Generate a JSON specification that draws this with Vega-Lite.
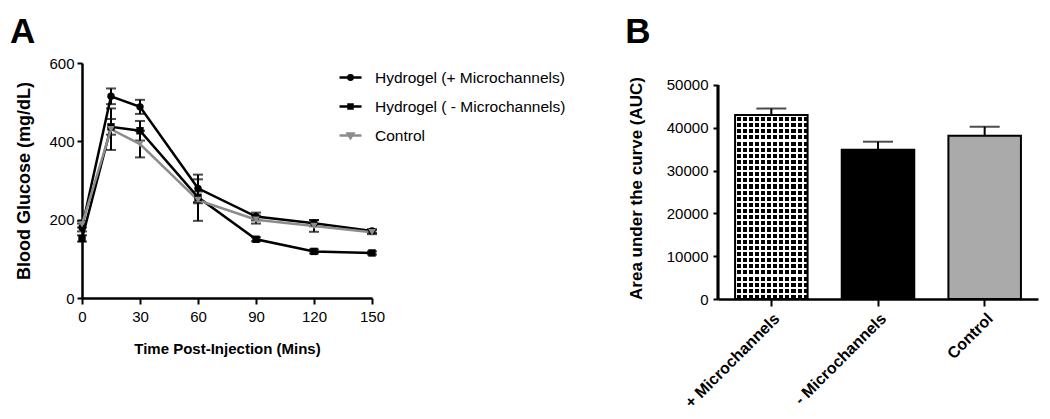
{
  "$schema": "https://vega.github.io/schema/vega-lite/v6.json",
  "background": "white",
  "padding": {"left": 9, "top": 15, "right": 5, "bottom": 5},
  "config": {
    "font": "Liberation Sans",
    "view": {"stroke": null},
    "axis": {
      "grid": false,
      "domainColor": "black",
      "domainWidth": 2.5,
      "tickColor": "black",
      "tickWidth": 2,
      "tickSize": 6,
      "labelColor": "black",
      "labelFontSize": 15,
      "labelFont": "Liberation Sans",
      "titleColor": "black",
      "titleFont": "Liberation Sans",
      "titleFontWeight": "bold"
    },
    "title": {"font": "Liberation Sans", "color": "black", "fontWeight": "bold", "fontSize": 35, "anchor": "start"}
  },
  "resolve": {"scale": {"color": "independent"}, "legend": {"color": "independent"}},
  "spacing": 59,
  "hconcat": [
    {
      "width": 290,
      "height": 235,
      "title": {"text": "A", "offset": 6, "dx": -6},
      "data": {"values": [
        {"series": "Hydrogel (+ Microchannels)", "time": 0, "mean": 180, "lo": 170, "hi": 190},
        {"series": "Hydrogel (+ Microchannels)", "time": 15, "mean": 515, "lo": 495, "hi": 535},
        {"series": "Hydrogel (+ Microchannels)", "time": 30, "mean": 488, "lo": 470, "hi": 506},
        {"series": "Hydrogel (+ Microchannels)", "time": 60, "mean": 280, "lo": 245, "hi": 315},
        {"series": "Hydrogel (+ Microchannels)", "time": 90, "mean": 208, "lo": 198, "hi": 218},
        {"series": "Hydrogel (+ Microchannels)", "time": 120, "mean": 191, "lo": 183, "hi": 199},
        {"series": "Hydrogel (+ Microchannels)", "time": 150, "mean": 171, "lo": 166, "hi": 176},
        {"series": "Hydrogel ( - Microchannels)", "time": 0, "mean": 152, "lo": 144, "hi": 160},
        {"series": "Hydrogel ( - Microchannels)", "time": 15, "mean": 437, "lo": 417, "hi": 457},
        {"series": "Hydrogel ( - Microchannels)", "time": 30, "mean": 427, "lo": 402, "hi": 452},
        {"series": "Hydrogel ( - Microchannels)", "time": 60, "mean": 257, "lo": 242, "hi": 272},
        {"series": "Hydrogel ( - Microchannels)", "time": 90, "mean": 150, "lo": 145, "hi": 155},
        {"series": "Hydrogel ( - Microchannels)", "time": 120, "mean": 119, "lo": 114, "hi": 124},
        {"series": "Hydrogel ( - Microchannels)", "time": 150, "mean": 115, "lo": 111, "hi": 119},
        {"series": "Control", "time": 0, "mean": 188, "lo": 180, "hi": 196},
        {"series": "Control", "time": 15, "mean": 431, "lo": 378, "hi": 484},
        {"series": "Control", "time": 30, "mean": 393, "lo": 359, "hi": 427},
        {"series": "Control", "time": 60, "mean": 250, "lo": 197, "hi": 303},
        {"series": "Control", "time": 90, "mean": 200, "lo": 190, "hi": 210},
        {"series": "Control", "time": 120, "mean": 184, "lo": 169, "hi": 199},
        {"series": "Control", "time": 150, "mean": 168, "lo": 163, "hi": 173}
      ]},
      "encoding": {
        "x": {
          "field": "time", "type": "quantitative",
          "scale": {"domain": [0, 150], "nice": false, "zero": true},
          "axis": {"values": [0, 30, 60, 90, 120, 150], "title": "Time Post-Injection (Mins)", "titleFontSize": 15, "titlePadding": 17, "labelPadding": 5, "labelFlush": false}
        }
      },
      "layer": [
        {
          "mark": {"type": "rule", "strokeWidth": 2, "color": "black"},
          "encoding": {
            "y": {"field": "lo", "type": "quantitative"},
            "y2": {"field": "hi"}
          }
        },
        {
          "mark": {"type": "tick", "orient": "horizontal", "size": 10, "thickness": 2, "color": "black"},
          "encoding": {"y": {"field": "lo", "type": "quantitative"}}
        },
        {
          "mark": {"type": "tick", "orient": "horizontal", "size": 10, "thickness": 2, "color": "black"},
          "encoding": {"y": {"field": "hi", "type": "quantitative"}}
        },
        {
          "mark": {"type": "line", "strokeWidth": 2.5},
          "encoding": {
            "y": {
              "field": "mean", "type": "quantitative",
              "scale": {"domain": [0, 600], "nice": false},
              "axis": {"values": [0, 200, 400, 600], "title": "Blood Glucose (mg/dL)", "titleFontSize": 18, "titlePadding": 15, "labelPadding": 3, "tickSize": 5}
            },
            "color": {
              "field": "series", "type": "nominal",
              "scale": {"domain": ["Hydrogel (+ Microchannels)", "Hydrogel ( - Microchannels)", "Control"], "range": ["black", "black", "#8c8c8c"]},
              "legend": {
                "orient": "none",
                "legendX": 257,
                "legendY": 3,
                "title": null,
                "labelFontSize": 15.5,
                "labelColor": "black",
                "labelFont": "Liberation Sans",
                "labelLimit": 400,
                "labelOffset": 13,
                "symbolSize": 400,
                "symbolStrokeWidth": 2.5,
                "symbolType": "M-1.1,0H1.1M-0.22,0A0.22,0.22 0 1,0 0.22,0A0.22,0.22 0 1,0 -0.22,0Z",
                "rowPadding": 9,
                "encoding": {
                  "symbols": {
                    "shape": {
                      "condition": [
                        {"test": "datum.value === 'Control'", "value": "M-1.1,0H1.1M-0.28,-0.2H0.28L0,0.26Z"},
                        {"test": "datum.value === 'Hydrogel (+ Microchannels)'", "value": "M-1.1,0H1.1M-0.22,0A0.22,0.22 0 1,0 0.22,0A0.22,0.22 0 1,0 -0.22,0Z"}
                      ],
                      "value": "M-1.1,0H1.1M-0.2,-0.2H0.2V0.2H-0.2Z"
                    }
                  }
                }
              }
            }
          }
        },
        {
          "transform": [{"filter": "datum.series === 'Hydrogel (+ Microchannels)'"}],
          "mark": {"type": "point", "filled": true, "size": 55, "opacity": 1, "shape": "circle", "color": "black"},
          "encoding": {"y": {"field": "mean", "type": "quantitative"}}
        },
        {
          "transform": [{"filter": "datum.series === 'Hydrogel ( - Microchannels)'"}],
          "mark": {"type": "point", "filled": true, "size": 55, "opacity": 1, "shape": "square", "color": "black"},
          "encoding": {"y": {"field": "mean", "type": "quantitative"}}
        },
        {
          "transform": [{"filter": "datum.series === 'Control'"}],
          "mark": {"type": "point", "filled": true, "size": 55, "opacity": 1, "shape": "triangle-down", "color": "#8c8c8c"},
          "encoding": {"y": {"field": "mean", "type": "quantitative"}}
        }
      ]
    },
    {
      "title": {"text": "B", "offset": 13, "dx": -2},
      "data": {"values": [
        {"group": "+ Microchannels", "auc": 43000, "hi": 44500},
        {"group": "- Microchannels", "auc": 34900, "hi": 36750},
        {"group": "Control", "auc": 38150, "hi": 40250}
      ]},
      "width": 320,
      "height": 236,
      "resolve": {"scale": {"x": "independent"}},
      "layer": [
        {
          "encoding": {
            "x": {
              "field": "group", "type": "nominal", "sort": null,
              "scale": {"domain": ["+ Microchannels", "- Microchannels", "Control"], "paddingInner": 0.32, "paddingOuter": 0.16},
              "axis": {"title": null, "labelAngle": -45, "labelFontSize": 16, "labelFontWeight": "bold", "tickSize": 7, "labelPadding": 4}
            }
          },
          "layer": [
            {
              "transform": [{"filter": "datum.group === '+ Microchannels'"}],
              "mark": {
                "type": "bar",
                "fill": {
                  "gradient": "linear", "x1": 0, "y1": 0, "x2": 0, "y2": 1,
                  "stops": [
                    {"offset": 0, "color": "white"}, {"offset": 0.0111, "color": "white"}, {"offset": 0.0111, "color": "black"}, {"offset": 0.0333, "color": "black"},
                    {"offset": 0.0333, "color": "white"}, {"offset": 0.0444, "color": "white"}, {"offset": 0.0444, "color": "black"}, {"offset": 0.0667, "color": "black"},
                    {"offset": 0.0667, "color": "white"}, {"offset": 0.0778, "color": "white"}, {"offset": 0.0778, "color": "black"}, {"offset": 0.1, "color": "black"},
                    {"offset": 0.1, "color": "white"}, {"offset": 0.1111, "color": "white"}, {"offset": 0.1111, "color": "black"}, {"offset": 0.1333, "color": "black"},
                    {"offset": 0.1333, "color": "white"}, {"offset": 0.1444, "color": "white"}, {"offset": 0.1444, "color": "black"}, {"offset": 0.1667, "color": "black"},
                    {"offset": 0.1667, "color": "white"}, {"offset": 0.1778, "color": "white"}, {"offset": 0.1778, "color": "black"}, {"offset": 0.2, "color": "black"},
                    {"offset": 0.2, "color": "white"}, {"offset": 0.2111, "color": "white"}, {"offset": 0.2111, "color": "black"}, {"offset": 0.2333, "color": "black"},
                    {"offset": 0.2333, "color": "white"}, {"offset": 0.2444, "color": "white"}, {"offset": 0.2444, "color": "black"}, {"offset": 0.2667, "color": "black"},
                    {"offset": 0.2667, "color": "white"}, {"offset": 0.2778, "color": "white"}, {"offset": 0.2778, "color": "black"}, {"offset": 0.3, "color": "black"},
                    {"offset": 0.3, "color": "white"}, {"offset": 0.3111, "color": "white"}, {"offset": 0.3111, "color": "black"}, {"offset": 0.3333, "color": "black"},
                    {"offset": 0.3333, "color": "white"}, {"offset": 0.3444, "color": "white"}, {"offset": 0.3444, "color": "black"}, {"offset": 0.3667, "color": "black"},
                    {"offset": 0.3667, "color": "white"}, {"offset": 0.3778, "color": "white"}, {"offset": 0.3778, "color": "black"}, {"offset": 0.4, "color": "black"},
                    {"offset": 0.4, "color": "white"}, {"offset": 0.4111, "color": "white"}, {"offset": 0.4111, "color": "black"}, {"offset": 0.4333, "color": "black"},
                    {"offset": 0.4333, "color": "white"}, {"offset": 0.4444, "color": "white"}, {"offset": 0.4444, "color": "black"}, {"offset": 0.4667, "color": "black"},
                    {"offset": 0.4667, "color": "white"}, {"offset": 0.4778, "color": "white"}, {"offset": 0.4778, "color": "black"}, {"offset": 0.5, "color": "black"},
                    {"offset": 0.5, "color": "white"}, {"offset": 0.5111, "color": "white"}, {"offset": 0.5111, "color": "black"}, {"offset": 0.5333, "color": "black"},
                    {"offset": 0.5333, "color": "white"}, {"offset": 0.5444, "color": "white"}, {"offset": 0.5444, "color": "black"}, {"offset": 0.5667, "color": "black"},
                    {"offset": 0.5667, "color": "white"}, {"offset": 0.5778, "color": "white"}, {"offset": 0.5778, "color": "black"}, {"offset": 0.6, "color": "black"},
                    {"offset": 0.6, "color": "white"}, {"offset": 0.6111, "color": "white"}, {"offset": 0.6111, "color": "black"}, {"offset": 0.6333, "color": "black"},
                    {"offset": 0.6333, "color": "white"}, {"offset": 0.6444, "color": "white"}, {"offset": 0.6444, "color": "black"}, {"offset": 0.6667, "color": "black"},
                    {"offset": 0.6667, "color": "white"}, {"offset": 0.6778, "color": "white"}, {"offset": 0.6778, "color": "black"}, {"offset": 0.7, "color": "black"},
                    {"offset": 0.7, "color": "white"}, {"offset": 0.7111, "color": "white"}, {"offset": 0.7111, "color": "black"}, {"offset": 0.7333, "color": "black"},
                    {"offset": 0.7333, "color": "white"}, {"offset": 0.7444, "color": "white"}, {"offset": 0.7444, "color": "black"}, {"offset": 0.7667, "color": "black"},
                    {"offset": 0.7667, "color": "white"}, {"offset": 0.7778, "color": "white"}, {"offset": 0.7778, "color": "black"}, {"offset": 0.8, "color": "black"},
                    {"offset": 0.8, "color": "white"}, {"offset": 0.8111, "color": "white"}, {"offset": 0.8111, "color": "black"}, {"offset": 0.8333, "color": "black"},
                    {"offset": 0.8333, "color": "white"}, {"offset": 0.8444, "color": "white"}, {"offset": 0.8444, "color": "black"}, {"offset": 0.8667, "color": "black"},
                    {"offset": 0.8667, "color": "white"}, {"offset": 0.8778, "color": "white"}, {"offset": 0.8778, "color": "black"}, {"offset": 0.9, "color": "black"},
                    {"offset": 0.9, "color": "white"}, {"offset": 0.9111, "color": "white"}, {"offset": 0.9111, "color": "black"}, {"offset": 0.9333, "color": "black"},
                    {"offset": 0.9333, "color": "white"}, {"offset": 0.9444, "color": "white"}, {"offset": 0.9444, "color": "black"}, {"offset": 0.9667, "color": "black"},
                    {"offset": 0.9667, "color": "white"}, {"offset": 0.9778, "color": "white"}, {"offset": 0.9778, "color": "black"}, {"offset": 1, "color": "black"}
                  ]
                }
              },
              "encoding": {"y": {"field": "auc", "type": "quantitative"}}
            },
            {
              "transform": [{"filter": "datum.group === '+ Microchannels'"}],
              "mark": {
                "type": "bar",
                "fill": {
                  "gradient": "linear", "x1": 0, "y1": 0, "x2": 1, "y2": 0,
                  "stops": [
                    {"offset": 0, "color": "white"}, {"offset": 0.0278, "color": "white"}, {"offset": 0.0278, "color": "rgba(255,255,255,0)"}, {"offset": 0.0833, "color": "rgba(255,255,255,0)"},
                    {"offset": 0.0833, "color": "white"}, {"offset": 0.1111, "color": "white"}, {"offset": 0.1111, "color": "rgba(255,255,255,0)"}, {"offset": 0.1667, "color": "rgba(255,255,255,0)"},
                    {"offset": 0.1667, "color": "white"}, {"offset": 0.1944, "color": "white"}, {"offset": 0.1944, "color": "rgba(255,255,255,0)"}, {"offset": 0.25, "color": "rgba(255,255,255,0)"},
                    {"offset": 0.25, "color": "white"}, {"offset": 0.2778, "color": "white"}, {"offset": 0.2778, "color": "rgba(255,255,255,0)"}, {"offset": 0.3333, "color": "rgba(255,255,255,0)"},
                    {"offset": 0.3333, "color": "white"}, {"offset": 0.3611, "color": "white"}, {"offset": 0.3611, "color": "rgba(255,255,255,0)"}, {"offset": 0.4167, "color": "rgba(255,255,255,0)"},
                    {"offset": 0.4167, "color": "white"}, {"offset": 0.4444, "color": "white"}, {"offset": 0.4444, "color": "rgba(255,255,255,0)"}, {"offset": 0.5, "color": "rgba(255,255,255,0)"},
                    {"offset": 0.5, "color": "white"}, {"offset": 0.5278, "color": "white"}, {"offset": 0.5278, "color": "rgba(255,255,255,0)"}, {"offset": 0.5833, "color": "rgba(255,255,255,0)"},
                    {"offset": 0.5833, "color": "white"}, {"offset": 0.6111, "color": "white"}, {"offset": 0.6111, "color": "rgba(255,255,255,0)"}, {"offset": 0.6667, "color": "rgba(255,255,255,0)"},
                    {"offset": 0.6667, "color": "white"}, {"offset": 0.6944, "color": "white"}, {"offset": 0.6944, "color": "rgba(255,255,255,0)"}, {"offset": 0.75, "color": "rgba(255,255,255,0)"},
                    {"offset": 0.75, "color": "white"}, {"offset": 0.7778, "color": "white"}, {"offset": 0.7778, "color": "rgba(255,255,255,0)"}, {"offset": 0.8333, "color": "rgba(255,255,255,0)"},
                    {"offset": 0.8333, "color": "white"}, {"offset": 0.8611, "color": "white"}, {"offset": 0.8611, "color": "rgba(255,255,255,0)"}, {"offset": 0.9167, "color": "rgba(255,255,255,0)"},
                    {"offset": 0.9167, "color": "white"}, {"offset": 0.9444, "color": "white"}, {"offset": 0.9444, "color": "rgba(255,255,255,0)"}, {"offset": 1, "color": "rgba(255,255,255,0)"}
                  ]
                }
              },
              "encoding": {"y": {"field": "auc", "type": "quantitative"}}
            },
            {
              "mark": {"type": "bar", "stroke": "black", "strokeWidth": 2, "fillOpacity": 1},
              "encoding": {
                "y": {
                  "field": "auc", "type": "quantitative",
                  "scale": {"domain": [0, 55140], "nice": false},
                  "axis": {"values": [0, 10000, 20000, 30000, 40000, 50000], "format": "d", "domain": false, "title": "Area under the curve (AUC)", "titleFontSize": 17, "titlePadding": 21, "labelPadding": 5, "tickSize": 5, "titleY": 125}
                },
                "fill": {
                  "field": "group", "type": "nominal",
                  "scale": {"domain": ["+ Microchannels", "- Microchannels", "Control"], "range": ["rgba(0,0,0,0)", "black", "#aaaaaa"]},
                  "legend": null
                }
              }
            },
            {
              "mark": {"type": "rule", "strokeWidth": 2, "color": "black"},
              "encoding": {
                "y": {"field": "auc", "type": "quantitative"},
                "y2": {"field": "hi"}
              }
            },
            {
              "mark": {"type": "tick", "orient": "horizontal", "size": 30, "thickness": 2, "color": "black"},
              "encoding": {"y": {"field": "hi", "type": "quantitative"}}
            }
          ]
        },
        {
          "mark": {"type": "rule", "strokeWidth": 2.5, "color": "black"},
          "encoding": {
            "x": {"datum": 0, "type": "quantitative", "scale": {"domain": [0, 1]}, "axis": null},
            "y": {"datum": 0, "type": "quantitative"},
            "y2": {"datum": 50000}
          }
        }
      ]
    }
  ]
}
